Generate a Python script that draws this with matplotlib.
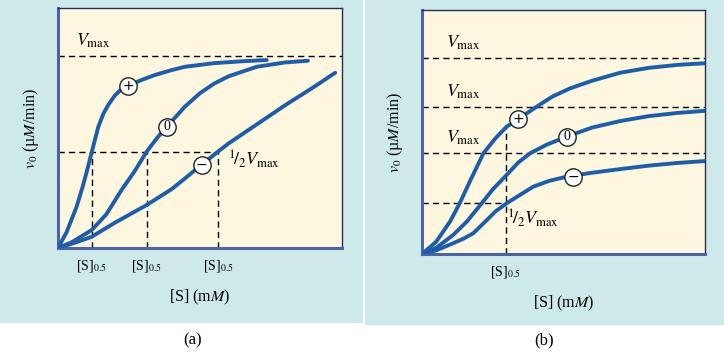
import numpy as np
import matplotlib
matplotlib.use("Agg")
import matplotlib.pyplot as plt
from matplotlib.patches import Rectangle

plt.rcParams['font.family'] = ['Liberation Serif', 'DejaVu Serif']
plt.rcParams['mathtext.fontset'] = 'stix'

# ---- panel (a): positive / none / negative modulator, same Vmax ----
a_plus_x = [0, 0.3, 0.65, 0.88, 1.05, 1.2, 1.42, 1.6, 1.77, 2.0, 2.2, 2.48, 2.9, 3.42, 4.0, 4.47,
            5.5, 6.5, 7.35]
a_plus_y = [0, 6.5, 17, 26, 33.5, 40.5, 50.5, 56, 59.6, 63.5, 65.8, 67.5, 69.8, 72.1, 74.1, 75.5,
            77, 77.8, 78.3]
a_zero_x = [0, 0.5, 1.19, 1.7, 2.24, 2.7, 3.12, 3.5, 3.83, 4.47, 5.0, 5.5, 6.0, 7.0, 8.0, 8.8]
a_zero_y = [0, 2.5, 7.5, 14, 24.2, 32, 40.1, 46, 50.5, 58.9, 64.5, 68.5, 71.5, 75.5, 77.3, 78]
a_minus_x = [0, 0.6, 1.19, 2.0, 3.12, 4.0, 4.47, 5.06, 5.65, 6.0, 7.0, 8.0, 9.0, 9.76]
a_minus_y = [0, 2.2, 4.7, 10.5, 17.9, 24.5, 29, 34.7, 40.3, 43.5, 51.5, 59.5, 67, 73]
a_vmax = [80]
a_half = 40
a_s05 = [1.18, 3.12, 5.65]
a_marks_x = [2.48, 3.83, 5.06]
a_marks_y = [67.5, 50.5, 34.7]

# ---- panel (b): same [S]0.5, different Vmax ----
b_plus_x = [0, 0.5, 1.0, 1.34, 1.7, 2.17, 2.6, 2.99, 3.4, 4.05, 4.6, 5.23, 6, 7, 8, 9, 10]
b_plus_y = [0, 5, 13.5, 21, 30, 41.3, 47.5, 52.2, 55.3, 60.4, 64.5, 67.9, 71, 74.3, 76.3, 77.5, 78.2]
b_zero_x = [0, 0.5, 1.1, 1.6, 2.11, 2.5, 2.99, 3.4, 3.82, 4.4, 5.11, 6, 7, 8, 9, 10]
b_zero_y = [0, 2.5, 7.8, 13.5, 20.8, 26.5, 32.4, 37.5, 41.3, 44.8, 48.1, 51.8, 54.5, 56.5, 57.8, 58.7]
b_minus_x = [0, 0.5, 1.1, 1.5, 1.81, 2.29, 2.6, 2.99, 3.5, 3.93, 4.5, 5.11, 6, 7, 8, 9, 10]
b_minus_y = [0, 1.5, 4.4, 6.5, 8.5, 13.9, 17.5, 20.8, 24.5, 27.6, 30, 31.7, 33.3, 34.8, 36.2, 37.3, 38.1]
b_vmax = [80.2, 60.1, 41.3]
b_half = 20.8
b_s05 = [2.96]
b_s05_top = 52
b_marks_x = [3.4, 5.11, 5.35]
b_marks_y = [55.3, 48.1, 31.5]

mark_syms = ['+', '0', '\u2212']
curve_col = '#1f5ea6'
panel_col = '#cde9ea'
face_col = '#fdf7df'
dash = (0, (4.5, 3))

fig = plt.figure(figsize=(7.24, 3.53), dpi=100)
fig.patches.append(Rectangle((0, 0.085), 0.5014, 0.915, transform=fig.transFigure,
                             facecolor=panel_col, edgecolor='none', zorder=-10))
fig.patches.append(Rectangle((0.504, 0.0793), 0.496, 0.9207, transform=fig.transFigure,
                             facecolor=panel_col, edgecolor='none', zorder=-10))

ax1 = fig.add_axes([0.0801, 0.2975, 0.3923, 0.680])
ax2 = fig.add_axes([0.5829, 0.2805, 0.391, 0.691])


def style_axes(ax):
    ax.set_facecolor(face_col)
    ax.set_xlim(0, 10)
    ax.set_ylim(0, 100)
    ax.set_yticks([])
    for s in ['left', 'bottom']:
        ax.spines[s].set_linewidth(2.2)
        ax.spines[s].set_color('#4d63a3')
    for s in ['top', 'right']:
        ax.spines[s].set_linewidth(1.0)
        ax.spines[s].set_color('#2b2d4f')
    ax.tick_params(axis='x', length=0, pad=7, labelsize=10)
    ax.set_xlabel('[S] (m$M$)', fontsize=11.5, labelpad=10)
    ax.set_ylabel('$v_0$ (\u00b5$M$/min)', fontsize=11.5, labelpad=12)


def draw_marks(ax, xs, ys):
    for x, y, s in zip(xs, ys, mark_syms):
        ax.plot(x, y, 'o', ms=12.5, mfc='white', mec='#222222', mew=1.0, zorder=5)
        ax.text(x, y, s, ha='center', va='center', fontsize=10, zorder=6,
                family='DejaVu Sans' if s != '0' else 'Liberation Serif')


def draw_curve(ax, xs, ys):
    ax.plot(xs, ys, color=curve_col, lw=2.8, solid_capstyle='round',
            solid_joinstyle='round', zorder=3)


# panel (a)
style_axes(ax1)
for v in a_vmax:
    ax1.axhline(v, color='black', lw=1, ls=dash)
ax1.plot([0, max(a_s05)], [a_half, a_half], color='black', lw=1, ls=dash)
for s in a_s05:
    ax1.plot([s, s], [0, a_half], color='black', lw=1, ls=dash)
draw_curve(ax1, a_plus_x, a_plus_y)
draw_curve(ax1, a_zero_x, a_zero_y)
draw_curve(ax1, a_minus_x, a_minus_y)
draw_marks(ax1, a_marks_x, a_marks_y)
ax1.text(0.65, a_vmax[0] + 2.5, r'$V_{\rm max}$', fontsize=13, ha='left', va='bottom')
ax1.text(max(a_s05) + 0.35, a_half - 3, r'$^1\!/_2V_{\rm max}$', fontsize=13, ha='left', va='center')
ax1.set_xticks(a_s05)
ax1.set_xticklabels(['[S]$_{0.5}$'] * len(a_s05))

# panel (b)
style_axes(ax2)
for v in b_vmax:
    ax2.axhline(v, color='black', lw=1, ls=dash)
    ax2.text(0.85, v + 2.5, r'$V_{\rm max}$', fontsize=13, ha='left', va='bottom')
ax2.plot([0, b_s05[0]], [b_half, b_half], color='black', lw=1, ls=dash)
ax2.plot([b_s05[0], b_s05[0]], [0, b_s05_top], color='black', lw=1, ls=dash)
draw_curve(ax2, b_plus_x, b_plus_y)
draw_curve(ax2, b_zero_x, b_zero_y)
draw_curve(ax2, b_minus_x, b_minus_y)
draw_marks(ax2, b_marks_x, b_marks_y)
ax2.text(b_s05[0] + 0.05, b_half - 6, r'$^1\!/_2V_{\rm max}$', fontsize=13, ha='left', va='center')
ax2.set_xticks(b_s05)
ax2.set_xticklabels(['[S]$_{0.5}$'])

fig.text(0.2666, 0.037, '(a)', fontsize=12, ha='center', va='center')
fig.text(0.7514, 0.037, '(b)', fontsize=12, ha='center', va='center')

fig.savefig('out.png', dpi=100)
